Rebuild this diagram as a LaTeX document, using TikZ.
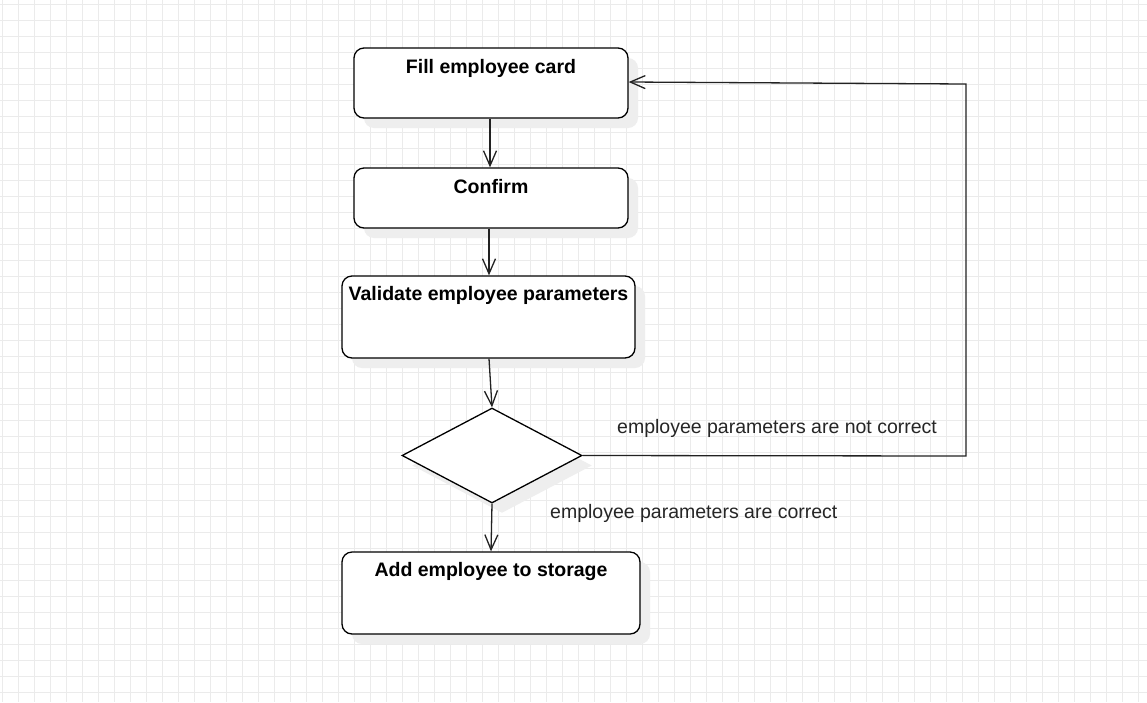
\documentclass[tikz,border=0pt]{standalone}
\usepackage{fontspec}
\setmainfont{Liberation Sans}
\usetikzlibrary{arrows.meta,shapes.geometric}
\definecolor{gridc}{HTML}{EBEBEB}
\definecolor{shadowc}{HTML}{EEEEEE}
\definecolor{linec}{HTML}{222222}
\definecolor{labelc}{HTML}{262626}
\tikzset{
  shadowed/.style={preaction={fill=shadowc, draw=none, transform canvas={xshift=10pt,yshift=-10pt}}},
  stepbox/.style={shadowed, draw=black, fill=white, line width=1.3pt, rounded corners=10pt, inner sep=0pt},
  decision/.style={shadowed, draw=black, fill=white, line width=1.3pt, diamond, inner sep=0pt, minimum width=180pt, minimum height=95pt},
  boxtext/.style={anchor=base, inner sep=0pt, font=\fontsize{19.5}{23}\selectfont\bfseries, text=black},
  edgelabel/.style={anchor=base west, inner sep=0pt, font=\fontsize{19.5}{23}\selectfont, text=labelc},
  flow/.style={draw=linec, line width=1.3pt, -{Straight Barb[length=15pt,width=13pt,line width=1.3pt]}}
}
\begin{document}
\begin{tikzpicture}[x=1pt,y=-1pt]
\useasboundingbox (0,0) rectangle (1147,702);
\fill[white] (0,0) rectangle (1147,702);
\begin{scope}[draw=gridc, line width=1pt]
  \foreach \gx in {2,18,...,1146} {\draw (\gx,0) -- (\gx,702);}
  \foreach \gy in {4,20,...,700} {\draw (0,\gy) -- (1147,\gy);}
\end{scope}

% boxes
\node[stepbox, minimum width=274pt, minimum height=70pt] (fill) at (491,83) {};
\node[boxtext] (fillt) at (491,73) {Fill employee card};
\node[stepbox, minimum width=274pt, minimum height=60pt] (confirm) at (491,198) {};
\node[boxtext] (confirmt) at (491,193) {Confirm};
\node[stepbox, minimum width=293pt, minimum height=82pt] (validate) at (488.5,317) {};
\node[boxtext] (validatet) at (488.5,300) {Validate employee parameters};
\node[decision] (dec) at (492,455.5) {};
\node[stepbox, minimum width=298pt, minimum height=82pt] (add) at (491,593) {};
\node[boxtext] (addt) at (491,576) {Add employee to storage};

% labels
\node[edgelabel] (lnot) at (617,433) {employee parameters are not correct};
\node[edgelabel] (lok) at (550,518) {employee parameters are correct};

% connectors
\coordinate (c1) at (966,456);
\coordinate (c2) at (966,84);
\draw[flow] (fill.south -| 490,0) -- (confirm.north -| 490,0);
\draw[flow] (confirm.south -| 489,0) -- (validate.north -| 489,0);
\draw[flow] (validate.south -| 489,0) -- (dec.north);
\draw[flow] (dec.south) -- (add.north -| 491,0);
\draw[flow] (dec.east) -- (c1) -- (c2) -- (fill.east |- 0,82);
\end{tikzpicture}
\end{document}
